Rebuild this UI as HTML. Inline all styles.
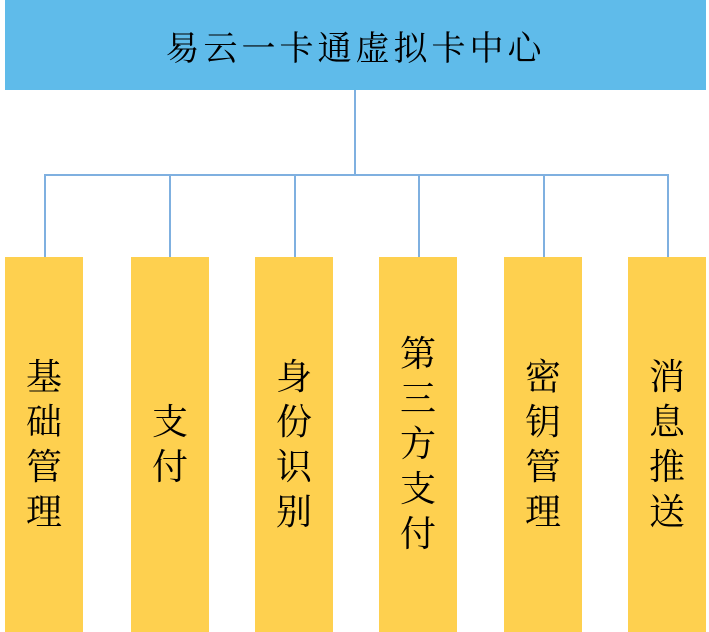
<!DOCTYPE html>
<html><head><meta charset="utf-8"><style>
body{margin:0;width:709px;height:632px;background:#fff;position:relative;overflow:hidden;font-family:"Liberation Serif","Noto Serif CJK SC",serif;}
.top{position:absolute;left:5px;top:0;width:701px;height:90px;background:#5fbbea;display:flex;align-items:center;justify-content:center;font-size:34px;letter-spacing:4px;color:#000;}
.l{position:absolute;background:#7fb0e0;}
.b{position:absolute;top:257px;height:375px;width:78px;background:#fed04f;display:flex;align-items:center;justify-content:center;font-size:36px;line-height:45px;text-align:center;color:#000;}
</style></head><body>
<div class="top">易云一卡通虚拟卡中心</div>
<div class="l" style="left:354px;top:90px;width:2px;height:85px"></div>
<div class="l" style="left:44px;top:174px;width:624px;height:2px"></div>
<div class="l" style="left:44px;top:174px;width:1.5px;height:83px"></div>
<div class="l" style="left:169px;top:174px;width:1.5px;height:83px"></div>
<div class="l" style="left:294px;top:174px;width:1.5px;height:83px"></div>
<div class="l" style="left:418px;top:174px;width:1.5px;height:83px"></div>
<div class="l" style="left:543px;top:174px;width:1.5px;height:83px"></div>
<div class="l" style="left:667px;top:174px;width:1.5px;height:83px"></div>
<div class="b" style="left:5px">基<br>础<br>管<br>理</div>
<div class="b" style="left:131px">支<br>付</div>
<div class="b" style="left:255px">身<br>份<br>识<br>别</div>
<div class="b" style="left:379px">第<br>三<br>方<br>支<br>付</div>
<div class="b" style="left:504px">密<br>钥<br>管<br>理</div>
<div class="b" style="left:628px">消<br>息<br>推<br>送</div>
</body></html>
